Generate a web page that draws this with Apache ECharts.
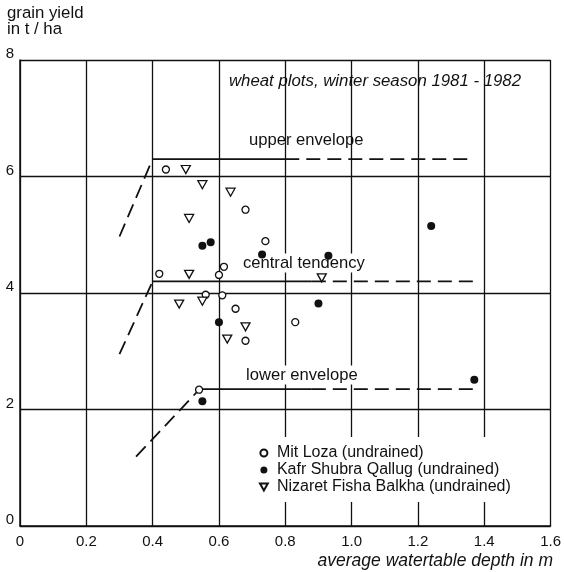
<!DOCTYPE html>
<html>
<head>
<meta charset="utf-8">
<script src="https://cdn.jsdelivr.net/npm/echarts@6/dist/echarts.min.js"></script>
<style>
html,body{margin:0;padding:0;background:#fff;}
#chart{width:564px;height:572px;}
</style>
</head>
<body>
<div id="chart"></div>
<script>
// ---- data ----
const xTicks = [0, 0.2, 0.4, 0.6, 0.8, 1.0, 1.2, 1.4, 1.6];
const yTicks = [0, 2, 4, 6, 8];
const seriesNames = ['Mit Loza (undrained)', 'Kafr Shubra Qallug (undrained)', 'Nizaret Fisha Balkha (undrained)'];

const mitLoza = [
  [0.44, 6.12], [0.68, 5.43], [0.74, 4.89], [0.615, 4.45], [0.42, 4.33], [0.60, 4.31],
  [0.56, 3.97], [0.61, 3.96], [0.65, 3.73], [0.83, 3.50], [0.68, 3.18], [0.54, 2.34]
];
const kafrShubra = [
  [0.55, 4.81], [0.575, 4.87], [0.73, 4.66], [0.93, 4.64], [0.90, 3.82], [0.60, 3.50],
  [1.24, 5.15], [1.37, 2.51], [0.55, 2.14]
];
const nizaretFisha = [
  [0.50, 6.12], [0.55, 5.86], [0.635, 5.73], [0.51, 5.28], [0.51, 4.32], [0.91, 4.26],
  [0.48, 3.81], [0.55, 3.86], [0.68, 3.42], [0.625, 3.21]
];

const upperDiag  = [[0.30, 4.97], [0.40, 6.30]];
const upperSolid = [[0.40, 6.30], [0.80, 6.30]];
const upperDash  = [[0.80, 6.30], [1.37, 6.30]];
const centralDiag  = [[0.30, 2.95], [0.40, 4.20]];
const centralSolid = [[0.40, 4.20], [0.88, 4.20]];
const centralDash  = [[0.88, 4.20], [1.37, 4.20]];
const lowerDiag  = [[0.35, 1.19], [0.54, 2.34]];
const lowerSolid = [[0.54, 2.35], [0.88, 2.35]];
const lowerDash  = [[0.88, 2.35], [1.37, 2.35]];

// ---- chart ----
const FONT = '"Liberation Sans", Arial, Helvetica, sans-serif';
const INK = '#111';
const chart = echarts.init(document.getElementById('chart'), null, {renderer: 'canvas'});

function envLine(data, dashed) {
  return {
    type: 'line', data: data, symbol: 'none', silent: true, z: 3,
    lineStyle: {color: INK, width: 1.8, type: dashed ? [14, 7] : 'solid'},
    animation: false
  };
}

const option = {
  animation: false,
  backgroundColor: '#fff',
  grid: {left: 20, right: 12, top: 60, bottom: 46},
  xAxis: {
    type: 'value', min: xTicks[0], max: xTicks[xTicks.length - 1], interval: 0.2,
    axisLine: {show: true, lineStyle: {color: INK, width: 1.5}},
    axisTick: {show: false},
    splitLine: {show: true, lineStyle: {color: INK, width: 1.3}},
    axisLabel: {
      color: INK, fontSize: 15, fontFamily: FONT, margin: 8,
      formatter: v => (v === 0 ? '0' : v.toFixed(1))
    }
  },
  yAxis: {
    type: 'value', min: yTicks[0], max: yTicks[yTicks.length - 1], interval: 2,
    axisLine: {show: true, lineStyle: {color: INK, width: 1.5}},
    axisTick: {show: false},
    splitLine: {show: true, lineStyle: {color: INK, width: 1.3}},
    axisLabel: {color: INK, fontSize: 15, fontFamily: FONT, margin: 6, verticalAlign: 'bottom', lineHeight: 12}
  },
  legend: {
    orient: 'vertical', left: 253, top: 437,
    data: [
      {name: seriesNames[0], icon: 'circle'},
      {name: seriesNames[1], icon: 'circle'},
      {name: seriesNames[2], icon: 'path://M0,0 L10,0 L5,9 Z'}
    ],
    backgroundColor: '#fff',
    padding: [8, 10, 7, 6],
    itemWidth: 8, itemHeight: 7, itemGap: 1,
    textStyle: {color: INK, fontSize: 16, fontFamily: FONT, lineHeight: 16, padding: [0, 0, 0, 4]}
  },
  graphic: [
    {type: 'text', left: 7, top: 5, style: {text: 'grain yield\nin t / ha', font: '16.8px ' + FONT, fill: INK, lineHeight: 16}},
    {type: 'text', x: 229, y: 81, style: {text: 'wheat plots, winter season 1981 - 1982', font: 'italic 16.8px ' + FONT, fill: INK, textVerticalAlign: 'middle'}},
    {type: 'text', x: 249, y: 140, style: {text: 'upper envelope', font: '16.6px ' + FONT, fill: INK, textVerticalAlign: 'middle'}},
    {type: 'text', x: 243, y: 263, z: 5, style: {text: 'central tendency', font: '16.6px ' + FONT, fill: INK, textVerticalAlign: 'middle', backgroundColor: '#fff', padding: [1, 2, 1, 0]}},
    {type: 'text', x: 246, y: 375, z: 5, style: {text: 'lower envelope', font: '16.6px ' + FONT, fill: INK, textVerticalAlign: 'middle', backgroundColor: '#fff', padding: [1, 2, 1, 0]}},
    {type: 'text', right: 11, top: 552, style: {text: 'average watertable depth in m', font: 'italic 17.5px ' + FONT, fill: INK}}
  ],
  series: [
    envLine(upperDiag, true), envLine(upperSolid, false), envLine(upperDash, true),
    envLine(centralDiag, true), envLine(centralSolid, false), envLine(centralDash, true),
    envLine(lowerDiag, true), envLine(lowerSolid, false), envLine(lowerDash, true),
    {
      name: seriesNames[0], type: 'scatter', data: mitLoza, symbol: 'circle', symbolSize: 7, z: 6,
      itemStyle: {color: '#fff', borderColor: INK, borderWidth: 1.3, opacity: 1}
    },
    {
      name: seriesNames[1], type: 'scatter', data: kafrShubra, symbol: 'circle', symbolSize: 8, z: 6,
      itemStyle: {color: INK, borderColor: INK, borderWidth: 0, opacity: 1}
    },
    {
      name: seriesNames[2], type: 'scatter', data: nizaretFisha, symbol: 'triangle', symbolRotate: 180, symbolSize: [9, 8], z: 6,
      itemStyle: {color: '#fff', borderColor: INK, borderWidth: 1.3, opacity: 1}
    }
  ]
};
chart.setOption(option);
</script>
</body>
</html>
